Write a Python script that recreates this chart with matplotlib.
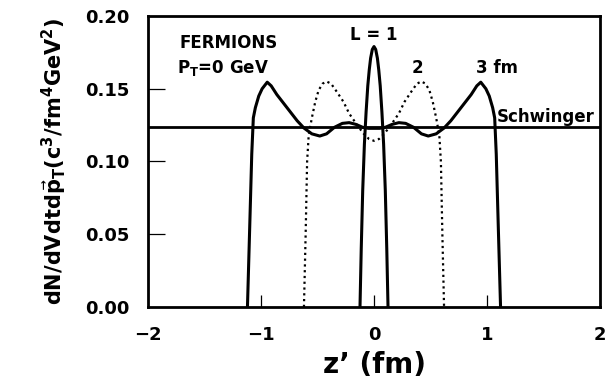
import matplotlib
matplotlib.use('Agg')
import matplotlib.pyplot as plt

# Local energy density profiles (z' in fm)
z_L1 = [-0.124, -0.113, -0.10, -0.085, -0.07, -0.055, -0.042, -0.03, -0.015, 0.0,
        0.015, 0.03, 0.042, 0.055, 0.07, 0.085, 0.10, 0.113, 0.124]
y_L1 = [0.000, 0.040, 0.080, 0.112, 0.134, 0.152, 0.163, 0.171, 0.177, 0.179,
        0.177, 0.171, 0.163, 0.152, 0.134, 0.112, 0.080, 0.040, 0.000]

z_L2 = [-0.62, -0.605, -0.592, -0.578, -0.55, -0.52, -0.49, -0.455, -0.42, -0.38, -0.33, -0.27, -0.22,
        -0.18, -0.14, -0.09, -0.045, 0.0, 0.045, 0.09, 0.14, 0.18, 0.22, 0.27, 0.33, 0.38, 0.42, 0.455,
        0.49, 0.52, 0.55, 0.578, 0.592, 0.605, 0.62]
y_L2 = [0.000, 0.050, 0.100, 0.118, 0.130, 0.141, 0.149, 0.1535, 0.155, 0.1535, 0.148, 0.141, 0.133,
        0.1285, 0.124, 0.119, 0.1155, 0.1142, 0.1155, 0.119, 0.124, 0.1285, 0.133, 0.141, 0.148, 0.1535, 0.155, 0.1535,
        0.149, 0.141, 0.130, 0.118, 0.100, 0.050, 0.000]

z_L3 = [-1.12, -1.10, -1.082, -1.068, -1.05, -1.02, -0.99, -0.945, -0.91, -0.86, -0.80, -0.74, -0.68,
        -0.62, -0.55, -0.48, -0.42, -0.35, -0.28, -0.22, -0.16, -0.10, -0.05, 0.0,
        0.05, 0.10, 0.16, 0.22, 0.28, 0.35, 0.42, 0.48, 0.55, 0.62, 0.68, 0.74, 0.80, 0.86, 0.91,
        0.945, 0.99, 1.02, 1.05, 1.068, 1.082, 1.10, 1.12]
y_L3 = [0.000, 0.055, 0.105, 0.130, 0.137, 0.145, 0.150, 0.1545, 0.152, 0.146, 0.140, 0.134, 0.128,
        0.123, 0.119, 0.1175, 0.119, 0.1235, 0.1262, 0.1267, 0.1255, 0.1235, 0.1228, 0.1228,
        0.1228, 0.1235, 0.1255, 0.1267, 0.1262, 0.1235, 0.119, 0.1175, 0.119, 0.123, 0.128, 0.134, 0.140, 0.146, 0.152,
        0.1545, 0.150, 0.145, 0.137, 0.130, 0.105, 0.055, 0.000]

schwinger = 0.124

x_ticks = [-2, -1, 0, 1, 2]
y_ticks = [0.00, 0.05, 0.10, 0.15, 0.20]

plt.rcParams['font.family'] = 'DejaVu Sans'
plt.rcParams['mathtext.fontset'] = 'dejavusans'
plt.rcParams['mathtext.default'] = 'bf'

fig = plt.figure(figsize=(6.16, 3.79), dpi=100)
ax = fig.add_axes([0.2403, 0.19, 0.7337, 0.7678])

ax.plot(z_L1, y_L1, color='black', lw=2.2)
ax.plot(z_L2, y_L2, color='black', lw=1.6, linestyle=(0, (1, 1.6)))
ax.plot(z_L3, y_L3, color='black', lw=2.2)
ax.axhline(schwinger, color='black', lw=2.0)

ax.set_xlim(-2, 2)
ax.set_ylim(0, 0.20)
ax.set_xticks(x_ticks)
ax.set_yticks(y_ticks)
ax.set_xticklabels(['\u22122', '\u22121', '0', '1', '2'])
ax.set_yticklabels(['%.2f' % v for v in y_ticks])

for s in ax.spines.values():
    s.set_linewidth(2.0)
ax.tick_params(axis='y', direction='in', length=12, width=0.9, pad=13, labelsize=13)
ax.tick_params(axis='x', direction='in', length=9, width=0.9, pad=14, labelsize=13)
for lab in ax.get_xticklabels() + ax.get_yticklabels():
    lab.set_fontweight('bold')

# hide the end ticks that sit on the frame
ax.xaxis.get_major_ticks()[0].tick1line.set_visible(False)
ax.xaxis.get_major_ticks()[-1].tick1line.set_visible(False)
ax.yaxis.get_major_ticks()[0].tick1line.set_visible(False)
ax.yaxis.get_major_ticks()[-1].tick1line.set_visible(False)

ax.set_xlabel("z\u2019 (fm)", fontsize=20, fontweight='bold', labelpad=5)
ax.set_ylabel(r"dN/dVdtd$\vec{p}_T$(c$^3$/fm$^4$GeV$^2$)", fontsize=15, fontweight='bold', labelpad=12)

ax.text(-1.72, 0.1814, 'FERMIONS', fontsize=12, fontweight='bold', va='center', ha='left')
ax.text(-1.74, 0.1643, r'P$_T$=0 GeV', fontsize=12, fontweight='bold', va='center', ha='left')
ax.text(0.0, 0.187, 'L = 1', fontsize=12, fontweight='bold', va='center', ha='center')
ax.text(0.38, 0.164, '2', fontsize=12, fontweight='bold', va='center', ha='center')
ax.text(1.09, 0.164, '3 fm', fontsize=12, fontweight='bold', va='center', ha='center')
ax.text(1.955, 0.1306, 'Schwinger', fontsize=12, fontweight='bold', va='center', ha='right')

fig.savefig('out.png', dpi=100)
